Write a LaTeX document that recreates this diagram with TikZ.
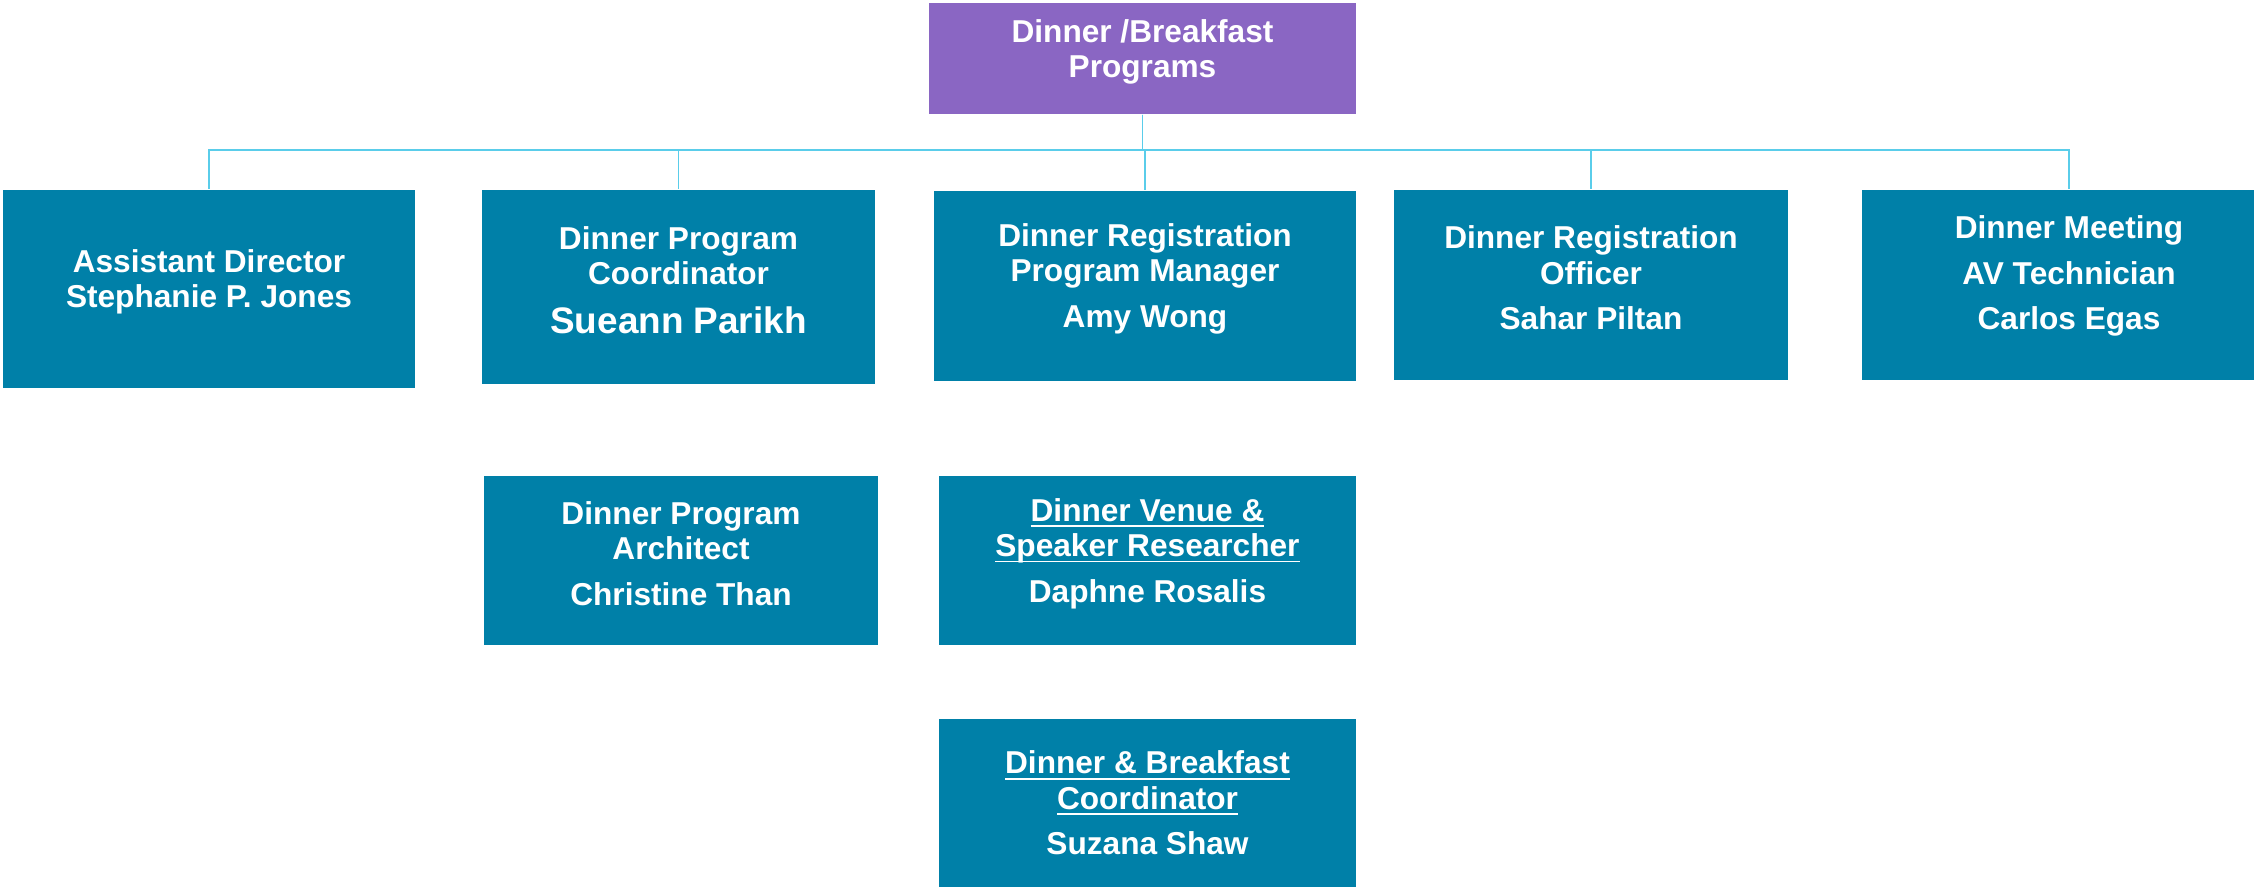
\documentclass[tikz,border=0pt]{standalone}
\usepackage{fontspec}
\setmainfont{Liberation Sans}
\usetikzlibrary{calc}
\definecolor{boxTeal}{HTML}{0080A8}
\definecolor{boxPurple}{HTML}{8A66C3}
\definecolor{linkCyan}{HTML}{5ACDEA}
\tikzset{
	orgbox/.style={inner sep=0pt},
	orgtext/.style={inner sep=0pt, yshift=0.07cm, text=white, align=center,
		font=\bfseries\fontsize{9}{10}\selectfont},
	orglink/.style={draw=linkCyan, line width=0.5pt}
}
\newcommand{\orgUnderline}[1]{\underline{\raisebox{0pt}[\height][0pt]{#1}}}
\newcommand{\drawOrgBox}[6][]{
	\path let
		\p1 = (#2), \p2 = (#3)
		in
		node[orgbox, fill=#5, minimum width={\x2-\x1}, minimum height={\y2-\y1},
			label={[orgtext,#1]center:{#6}}]
			(#4) at ({(\x1 + \x2)*1/2}, {(\y1 + \y2)*1/2}) {};
}
\newcommand{\drawOrgLink}[2]{
	\draw[orglink] (#1.south) -- ++(0,-0.35) -| (#2.north);
}

\begin{document}
\begin{tikzpicture}
		\path[use as bounding box] (0,0) rectangle (22.54,8.89);
		\clip (0,0) rectangle (22.54,8.89);

		\coordinate (B0_L) at (9.29,7.75);
		\coordinate (B0_R) at (13.56,8.86);
		\coordinate (B1_L) at (0.03,5.01);
		\coordinate (B1_R) at (4.15,6.99);
		\coordinate (B2_L) at (4.82,5.05);
		\coordinate (B2_R) at (8.75,6.99);
		\coordinate (B3_L) at (9.34,5.08);
		\coordinate (B3_R) at (13.56,6.98);
		\coordinate (B4_L) at (13.94,5.09);
		\coordinate (B4_R) at (17.88,6.99);
		\coordinate (B5_L) at (18.62,5.09);
		\coordinate (B5_R) at (22.76,6.99);
		\coordinate (B6_L) at (4.84,2.44);
		\coordinate (B6_R) at (8.78,4.13);
		\coordinate (B7_L) at (9.39,2.44);
		\coordinate (B7_R) at (13.56,4.13);
		\coordinate (B8_L) at (9.39,0.02);
		\coordinate (B8_R) at (13.56,1.70);

		\drawOrgBox{B0_L}{B0_R}{programs}{boxPurple}{Dinner /Breakfast\\Programs}
		\drawOrgBox{B1_L}{B1_R}{assistant}{boxTeal}{Assistant Director\\Stephanie P. Jones}
		\drawOrgBox{B2_L}{B2_R}{coordinator}{boxTeal}{Dinner Program\\Coordinator\\[4pt]{\fontsize{10.5}{12}\selectfont Sueann Parikh}}
		\drawOrgBox{B3_L}{B3_R}{manager}{boxTeal}{Dinner Registration\\Program Manager\\[3pt]Amy Wong}
		\drawOrgBox{B4_L}{B4_R}{officer}{boxTeal}{Dinner Registration\\Officer\\[3pt]Sahar Piltan}
		\drawOrgBox[yshift=0.02cm]{B5_L}{B5_R}{technician}{boxTeal}{Dinner Meeting\\[3pt]AV Technician\\[3pt]Carlos Egas}
		\drawOrgBox{B6_L}{B6_R}{architect}{boxTeal}{Dinner Program\\Architect\\[3pt]Christine Than}
		\drawOrgBox{B7_L}{B7_R}{researcher}{boxTeal}{\orgUnderline{Dinner Venue \&}\\\orgUnderline{Speaker Researcher}\\[3pt]Daphne Rosalis}
		\drawOrgBox[yshift=-0.07cm]{B8_L}{B8_R}{breakfast}{boxTeal}{\orgUnderline{Dinner \& Breakfast}\\\orgUnderline{Coordinator}\\[3pt]Suzana Shaw}

		\drawOrgLink{programs}{assistant}
		\drawOrgLink{programs}{coordinator}
		\drawOrgLink{programs}{manager}
		\drawOrgLink{programs}{officer}
		\drawOrgLink{programs}{technician}
	\end{tikzpicture}
\end{document}
